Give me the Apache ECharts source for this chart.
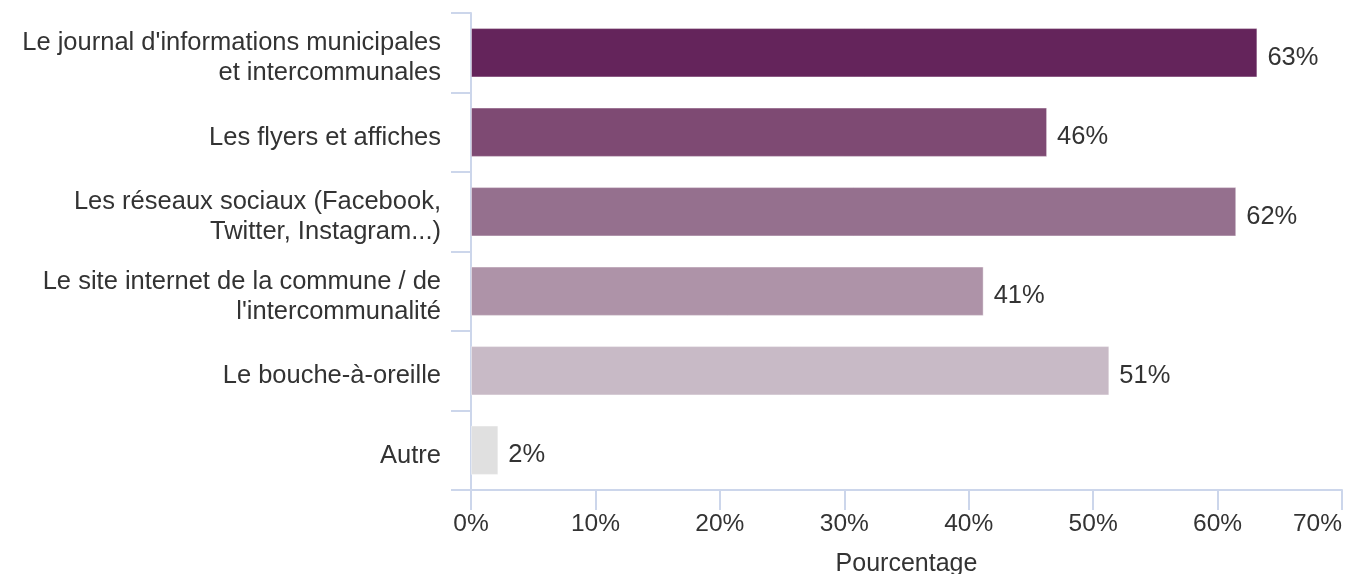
<!DOCTYPE html>
<html>
<head>
<meta charset="utf-8">
<script src="https://cdn.jsdelivr.net/npm/echarts@6/dist/echarts.min.js"></script>
<style>
html,body{margin:0;padding:0;background:#fff;}
#chart{width:1354px;height:574px;}
</style>
</head>
<body>
<div id="chart"></div>
<script>
const categories = [
  "Le journal d'informations municipales\net intercommunales",
  "Les flyers et affiches",
  "Les réseaux sociaux (Facebook,\nTwitter, Instagram...)",
  "Le site internet de la commune / de\nl'intercommunalité",
  "Le bouche-à-oreille",
  "Autre"
];
const values = [63.2, 46.3, 61.5, 41.2, 51.3, 2.2];
const barColors = ["#64245B", "#7E4A73", "#95708E", "#AE93A8", "#C8BAC6", "#E0E0E0"];
const xTicks = [0, 10, 20, 30, 40, 50, 60, 70];
const axisTitle = "Pourcentage";

const chart = echarts.init(document.getElementById('chart'), null, {renderer: 'canvas'});
const font = 'Liberation Sans, Arial, sans-serif';
const catText = {fontFamily: font, fontSize: 25.5, color: '#333', lineHeight: 30};
chart.setOption({
  animation: false,
  grid: {left: 471, right: 12, top: 13, bottom: 84, containLabel: false, outerBoundsMode: 'none'},
  xAxis: {
    type: 'value',
    min: xTicks[0],
    max: xTicks[xTicks.length - 1],
    interval: xTicks[1] - xTicks[0],
    name: axisTitle,
    nameLocation: 'middle',
    nameGap: 62,
    nameTextStyle: {fontFamily: font, fontSize: 25, color: '#333'},
    axisLine: {show: true, lineStyle: {color: '#ccd6eb', width: 2}},
    axisTick: {show: true, length: 20, lineStyle: {color: '#ccd6eb', width: 2}},
    splitLine: {show: false},
    axisLabel: {
      fontFamily: font, fontSize: 24.5, color: '#333', margin: 22,
      formatter: v => v + '%',
      alignMaxLabel: 'right'
    }
  },
  yAxis: {
    type: 'category',
    data: categories,
    inverse: true,
    axisLine: {show: true, lineStyle: {color: '#ccd6eb', width: 2}},
    axisTick: {show: true, length: 20, lineStyle: {color: '#ccd6eb', width: 2}},
    axisLabel: {
      fontFamily: font, fontSize: 25.5, color: '#333', margin: 30, lineHeight: 30, align: 'right',
      formatter: v => '{p| }\n' + v.split('\n').map(l => '{a|' + l + '}').join('\n'),
      rich: {
        p: {fontFamily: font, fontSize: 1, lineHeight: 11, height: 11},
        a: Object.assign({}, catText)
      }
    }
  },
  series: [{
    type: 'bar',
    data: values.map((v, i) => ({value: v, itemStyle: {color: barColors[i]}})),
    barCategoryGap: '38%',
    itemStyle: {borderColor: 'rgba(255,255,255,0.4)', borderWidth: 1},
    label: {
      show: true, position: 'right', distance: 10, offset: [0, 5],
      fontFamily: font, fontSize: 25.5, color: '#333',
      formatter: p => Math.round(p.value) + '%'
    }
  }]
});
</script>
</body>
</html>
